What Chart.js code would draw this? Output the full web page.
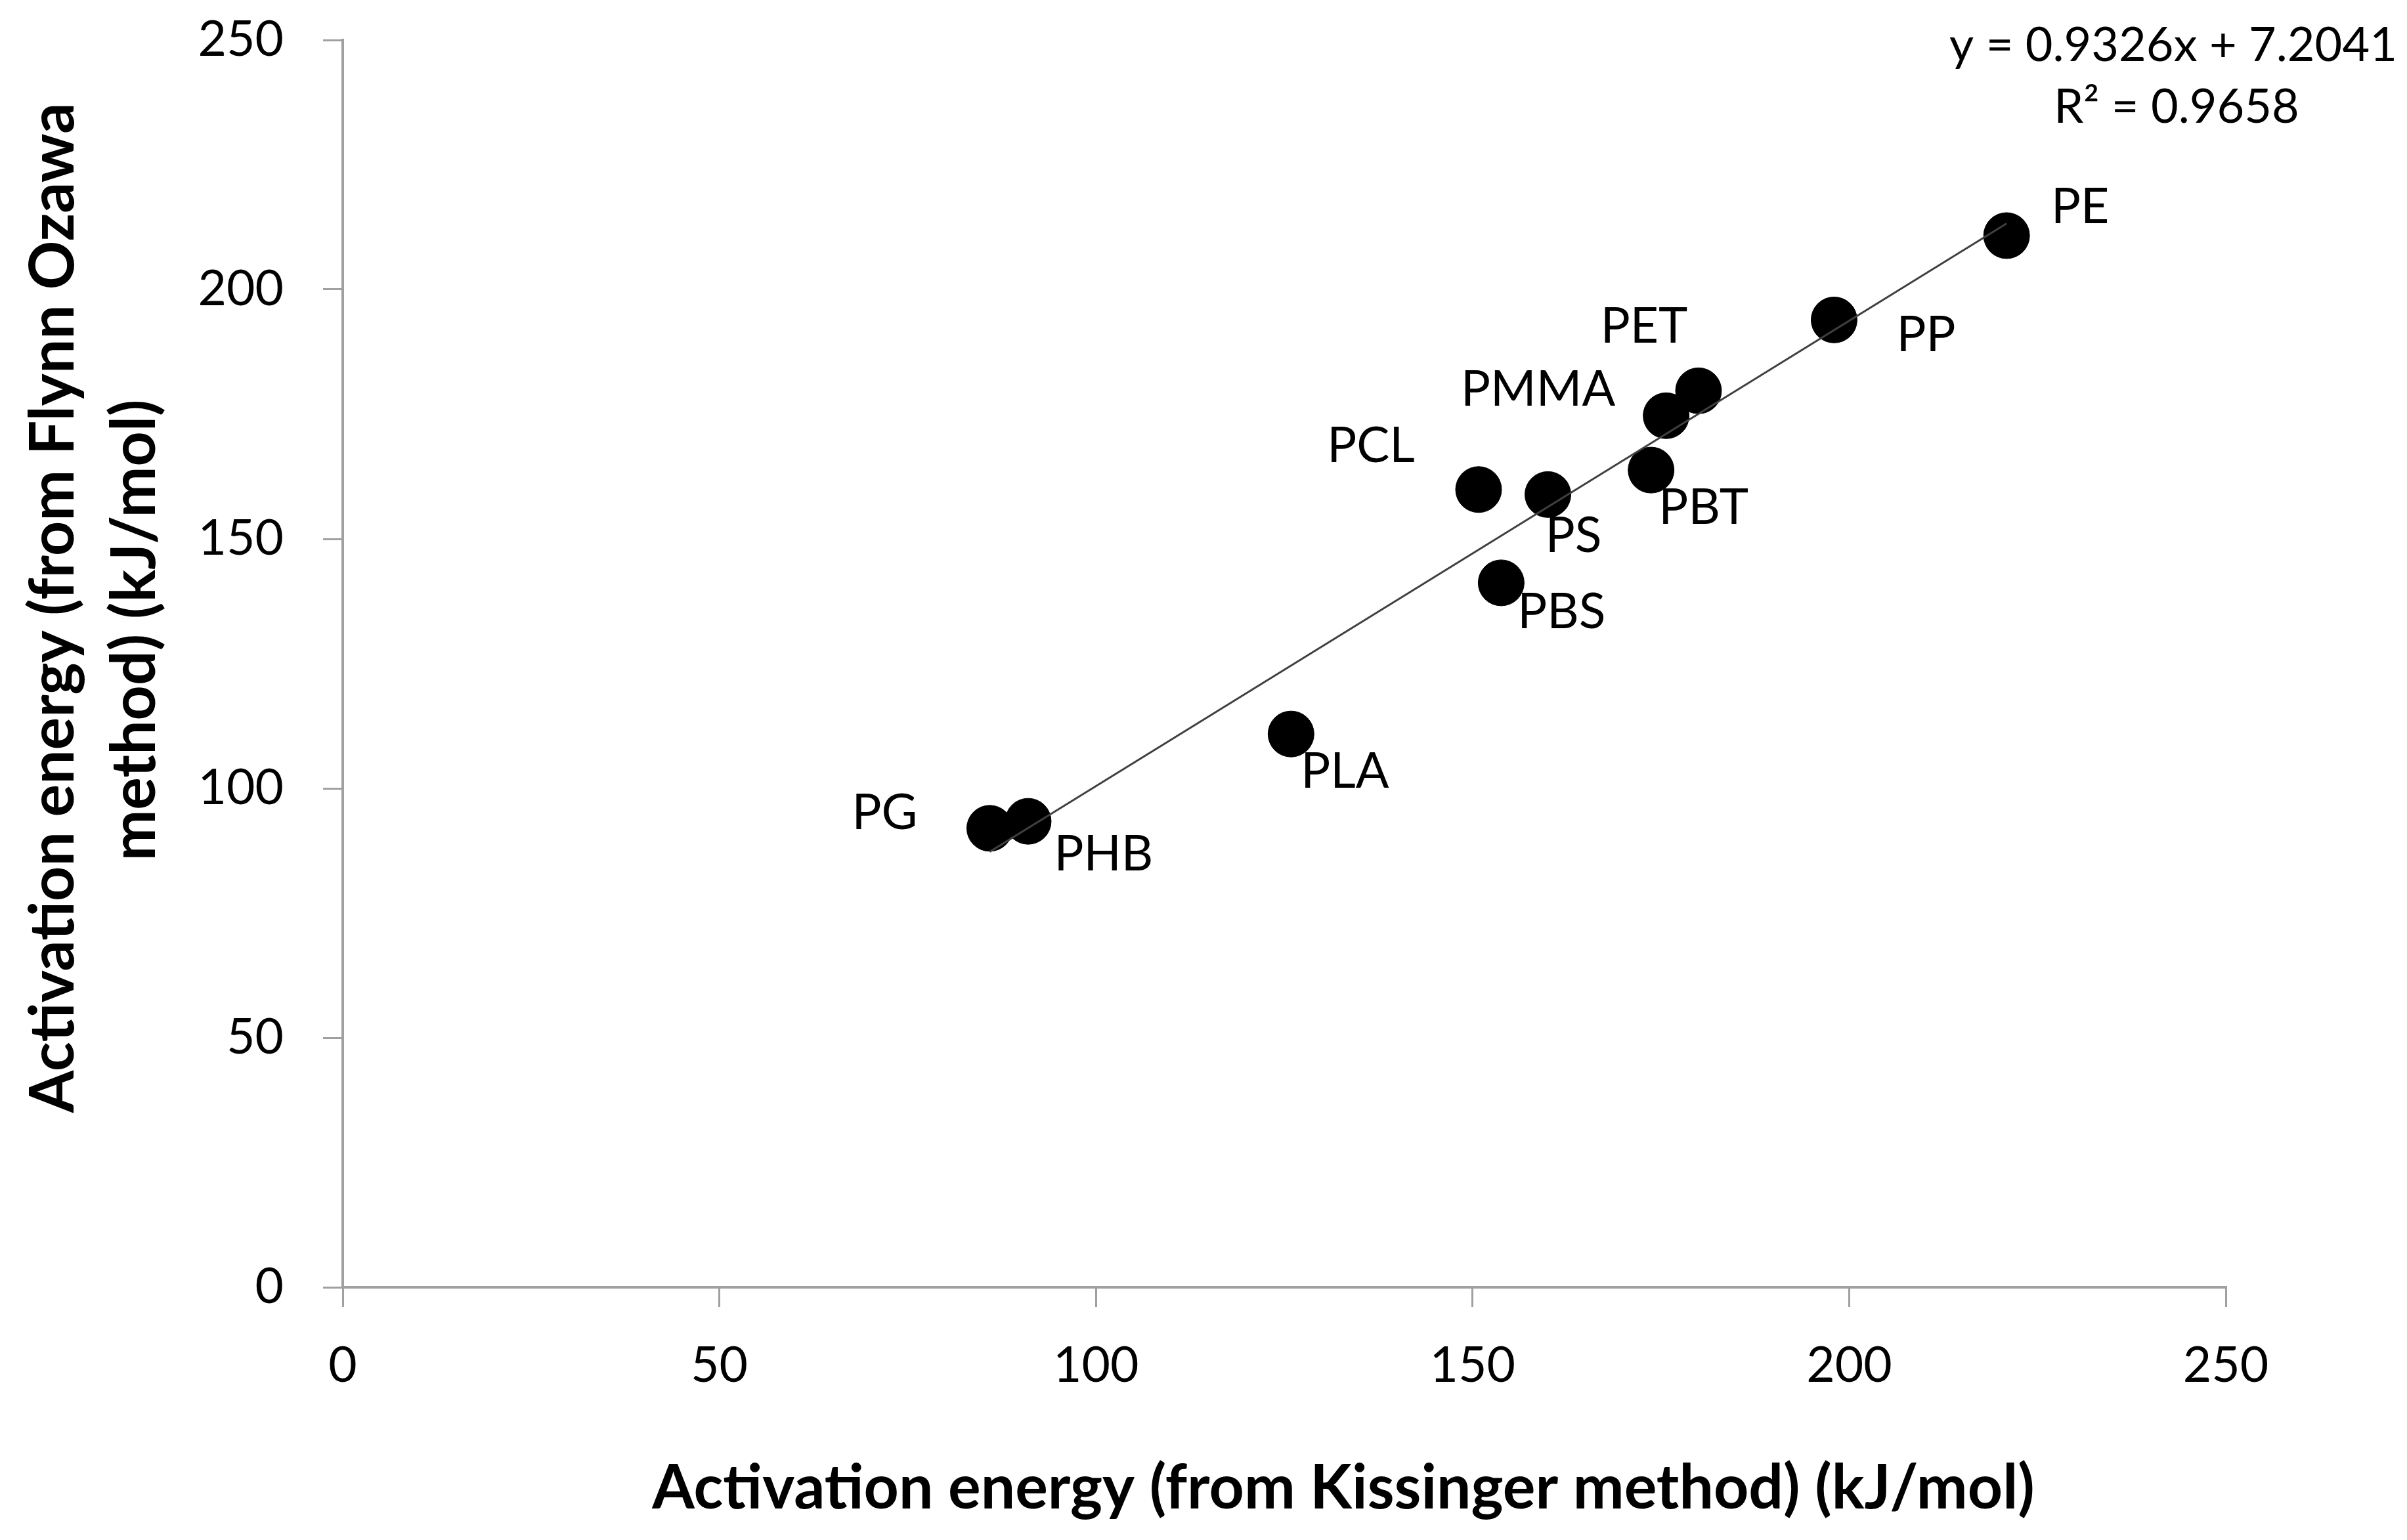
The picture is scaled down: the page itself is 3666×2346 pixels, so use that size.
<!DOCTYPE html>
<html lang="en">
<head>
    <meta charset="UTF-8">
    <title>Activation energy comparison</title>
    <script src="https://cdn.jsdelivr.net/npm/chart.js"></script>
    <style>
        html, body { margin: 0; padding: 0; background: #fff; }
        canvas { display: block; }
    </style>
</head>
<body>
    <canvas id="energyChart" width="3666" height="2346"></canvas>

    <script>
        // polymer names and activation energies (kJ/mol)
        const polymers = ['PG', 'PHB', 'PLA', 'PCL', 'PBS', 'PS', 'PBT', 'PMMA', 'PET', 'PP', 'PE'];
        const kissinger = [85.9, 91.0, 125.9, 150.8, 153.8, 160.0, 173.7, 175.7, 180.0, 198.0, 220.9];
        const flynnOzawa = [92.0, 93.4, 110.9, 159.9, 141.2, 158.9, 163.8, 174.7, 179.7, 193.9, 210.8];

        // linear trendline as printed on the chart
        const slope = 0.9326;
        const intercept = 7.2041;
        const xTicks = [0, 50, 100, 150, 200, 250];
        const yTicks = [0, 50, 100, 150, 200, 250];

        const fontFamily = 'Lato, "Open Sans", sans-serif';
        const axisGray = '#a0a0a0';

        // label offsets from each marker, in pixels
        const labelOffsets = {
            PG: [-160, -23], PHB: [115, 51], PLA: [82, 58], PCL: [-164, -66],
            PBS: [92, 45], PS: [39, 63], PBT: [80, 58], PMMA: [-195, -39],
            PET: [-83, -97], PP: [140, 23], PE: [112, -43]
        };

        const points = kissinger.map((x, i) => ({ x: x, y: flynnOzawa[i] }));
        const xMin = Math.min(...kissinger);
        const xMax = Math.max(...kissinger);
        const trendPoints = [
            { x: xMin, y: slope * xMin + intercept },
            { x: xMax, y: slope * xMax + intercept }
        ];

        const annotations = {
            id: 'annotations',
            afterDraw(chart) {
                const ctx = chart.ctx;
                const xs = chart.scales.x;
                const ys = chart.scales.y;
                ctx.save();
                ctx.fillStyle = '#000';
                ctx.textAlign = 'center';
                ctx.textBaseline = 'middle';

                // point labels
                ctx.font = '75px ' + fontFamily;
                polymers.forEach((name, i) => {
                    const px = xs.getPixelForValue(kissinger[i]);
                    const py = ys.getPixelForValue(flynnOzawa[i]);
                    const off = labelOffsets[name];
                    ctx.fillText(name, px + off[0], py + off[1]);
                });

                // trendline equation
                ctx.font = '72px ' + fontFamily;
                ctx.fillText('y = ' + slope + 'x + ' + intercept, 3310, 70);
                ctx.fillText('R\u00B2 = 0.9658', 3315, 164);

                // axis titles
                ctx.font = 'bold 93px ' + fontFamily;
                ctx.fillText('Activation energy (from Kissinger method) (kJ/mol)', 2046, 2268);

                ctx.save();
                ctx.translate(82, 926);
                ctx.rotate(-Math.PI / 2);
                ctx.fillText('Activation energy (from Flynn Ozawa', 0, 0);
                ctx.restore();
                ctx.save();
                ctx.translate(206, 960);
                ctx.rotate(-Math.PI / 2);
                ctx.fillText('method) (kJ/mol)', 0, 0);
                ctx.restore();

                ctx.restore();
            }
        };

        const chartConfig = {
            type: 'scatter',
            data: {
                datasets: [
                    {
                        label: 'Trendline',
                        type: 'line',
                        data: trendPoints,
                        borderColor: '#404040',
                        borderWidth: 3,
                        pointRadius: 0,
                        fill: false,
                        order: 0
                    },
                    {
                        label: 'Polymers',
                        data: points,
                        backgroundColor: '#000',
                        borderColor: '#000',
                        pointRadius: 35,
                        pointHoverRadius: 35,
                        order: 1
                    }
                ]
            },
            options: {
                responsive: false,
                devicePixelRatio: 1,
                animation: false,
                layout: { padding: { top: 61, right: 276, left: 0, bottom: 0 } },
                plugins: {
                    legend: { display: false },
                    tooltip: { enabled: false }
                },
                scales: {
                    x: {
                        type: 'linear',
                        min: 0,
                        max: 250,
                        afterFit(scale) {
                            scale.height = 385;
                            scale.paddingLeft = 0;
                            scale.paddingRight = 0;
                        },
                        afterBuildTicks(scale) { scale.ticks = xTicks.map(v => ({ value: v })); },
                        border: { color: axisGray, width: 4 },
                        grid: { drawOnChartArea: false, tickLength: 30, color: axisGray, lineWidth: 3 },
                        ticks: { color: '#000', padding: 45, font: { family: fontFamily, size: 75 } }
                    },
                    y: {
                        type: 'linear',
                        min: 0,
                        max: 250,
                        afterFit(scale) {
                            scale.width = 522;
                            scale.paddingTop = 0;
                            scale.paddingBottom = 0;
                        },
                        afterBuildTicks(scale) { scale.ticks = yTicks.map(v => ({ value: v })); },
                        border: { color: axisGray, width: 4 },
                        grid: { drawOnChartArea: false, tickLength: 30, color: axisGray, lineWidth: 3 },
                        ticks: { color: '#000', padding: 60, font: { family: fontFamily, size: 75 } }
                    }
                }
            },
            plugins: [annotations]
        };

        const energyChart = new Chart(document.getElementById('energyChart'), chartConfig);
    </script>
</body>
</html>
